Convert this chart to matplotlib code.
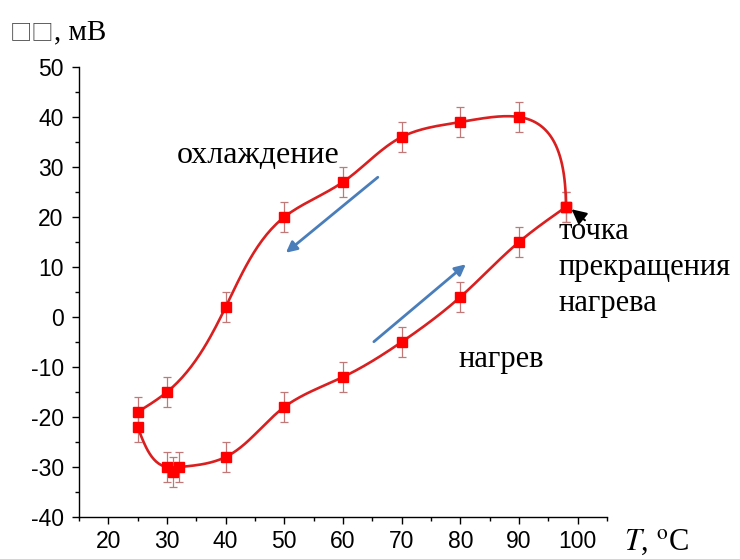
import numpy as np
import matplotlib
matplotlib.use("Agg")
import matplotlib.pyplot as plt

# heating branch (lower) and cooling branch (upper), T in C, signal in mV
HEAT_T = [25, 30, 31, 32, 40, 50, 60, 70, 80, 90, 98]
HEAT_U = [-22, -30, -31, -30, -28, -18, -12, -5, 4, 15, 22]
COOL_T = [98, 90, 80, 70, 60, 50, 40, 30, 25]
COOL_U = [22, 40, 39, 36, 27, 20, 2, -15, -19]
ERR = 3.0

X_TICKS = [20, 30, 40, 50, 60, 70, 80, 90, 100]
Y_TICKS = [-40, -30, -20, -10, 0, 10, 20, 30, 40, 50]

RED = "#d91f1f"
MARK = "#ff0000"
EBAR = "#c07878"
BLUE = "#4a7ebb"

SX, SY = 5.87, 5.0          # pixels per data unit, used for chord lengths

plt.rcParams["axes.unicode_minus"] = False
plt.rcParams["mathtext.fontset"] = "stix"


def cubic_spline(s, v, d0=None, n=30):
    """Cubic spline v(s); natural ends, or clamped start slope d0."""
    k = len(s)
    h = np.diff(s)
    A = np.zeros((k, k))
    r = np.zeros(k)
    if d0 is None:
        A[0, 0] = 1.0
    else:
        A[0, 0], A[0, 1] = 2 * h[0], h[0]
        r[0] = 6 * ((v[1] - v[0]) / h[0] - d0)
    A[-1, -1] = 1.0
    for i in range(1, k - 1):
        A[i, i - 1] = h[i - 1]
        A[i, i] = 2 * (h[i - 1] + h[i])
        A[i, i + 1] = h[i]
        r[i] = 6 * ((v[i + 1] - v[i]) / h[i] - (v[i] - v[i - 1]) / h[i - 1])
    m = np.linalg.solve(A, r)
    out = []
    for i in range(k - 1):
        t = np.linspace(s[i], s[i + 1], n)
        a, b = s[i + 1] - t, t - s[i]
        seg = (m[i] * a ** 3 + m[i + 1] * b ** 3) / (6 * h[i]) \
            + (v[i] / h[i] - m[i] * h[i] / 6) * a \
            + (v[i + 1] / h[i] - m[i + 1] * h[i] / 6) * b
        out.append(seg if i == 0 else seg[1:])
    return np.concatenate(out)


def smooth_path(xs, ys, start_dir=None):
    # chord length measured in screen pixels so the loop bends like on paper
    x = np.asarray(xs, float)
    y = np.asarray(ys, float)
    d = np.hypot(np.diff(x) * SX, np.diff(y) * SY)
    s = np.concatenate([[0], np.cumsum(d)])
    dx0 = dy0 = None
    if start_dir is not None:
        dx0, dy0 = start_dir[0] / SX, start_dir[1] / SY
    return cubic_spline(s, x, dx0), cubic_spline(s, y, dy0)


fig = plt.figure(figsize=(7.4, 5.59), dpi=100)
ax = fig.add_axes([79 / 740, 42 / 559, 528 / 740, 450 / 559])

# heating curve (the 31 C point sits in the dip, the line passes above it)
hx, hy = smooth_path([t for i, t in enumerate(HEAT_T) if i != 2],
                     [u for i, u in enumerate(HEAT_U) if i != 2])
# cooling curve leaves the stop point straight upward
cx, cy = smooth_path(COOL_T, COOL_U, start_dir=(0.0, 1.8))
ax.plot(hx, hy, color=RED, lw=1.9, zorder=2)
ax.plot(cx, cy, color=RED, lw=1.9, zorder=2)

for ts, us in ((HEAT_T, HEAT_U), (COOL_T, COOL_U)):
    ax.errorbar(ts, us, yerr=ERR, fmt="none", ecolor=EBAR, elinewidth=0.9,
                capsize=3, capthick=0.9, zorder=1)
    ax.plot(ts, us, "s", color=MARK, ms=7.5, zorder=3)

ax.set_xlim(15, 105)
ax.set_ylim(-40, 50)
ax.set_xticks(X_TICKS)
ax.set_yticks(Y_TICKS)
ax.set_xticks(np.arange(15, 106, 5), minor=True)
ax.set_yticks(np.arange(-40, 51, 5), minor=True)
for s in ("top", "right"):
    ax.spines[s].set_visible(False)
for s in ("left", "bottom"):
    ax.spines[s].set_linewidth(1.0)
ax.tick_params(which="major", direction="out", length=5, width=1.0,
               labelsize=16.5)
ax.tick_params(which="minor", direction="out", length=3, width=1.0)
ax.tick_params(axis="y", pad=6)
ax.tick_params(axis="x", pad=4)
for lab in ax.get_xticklabels() + ax.get_yticklabels():
    lab.set_family("Liberation Sans")

serif = "Liberation Serif"
ax.text(31.7, 30.7, "охлаждение", family=serif, fontsize=23, va="baseline")
ax.text(79.6, -9.9, "нагрев", family=serif, fontsize=22, va="baseline")
ax.text(96.8, 1.3, "точка\nпрекращения\nнагрева", family=serif, fontsize=22,
        va="baseline", linespacing=1.3)

arrow = dict(arrowstyle="-|>", color=BLUE, lw=2.0, mutation_scale=16)
ax.annotate("", xy=(49.9, 12.5), xytext=(66.3, 28.3), arrowprops=arrow)
ax.annotate("", xy=(81.3, 10.9), xytext=(64.9, -5.3), arrowprops=arrow)
ax.annotate("", xy=(98.6, 21.9), xytext=(101.6, 19.0),
            arrowprops=dict(arrowstyle="-|>", color="black", lw=1.5,
                            mutation_scale=22))

# y label: two missing glyphs (shown as boxes), then the unit
fig.text(10 / 740, 1 - 39 / 559, "□□", family=["Noto Sans CJK SC", "DejaVu Sans"],
         fontsize=16, va="baseline", color="#444444")
fig.text(54 / 740, 1 - 39 / 559, ", мВ", family=serif, fontsize=21, va="baseline")
fig.text(624 / 740, 9 / 559, r"$T$, $^{\mathrm{o}}$C", family=serif,
         fontsize=22, va="baseline")

fig.savefig("out.png", dpi=100)
